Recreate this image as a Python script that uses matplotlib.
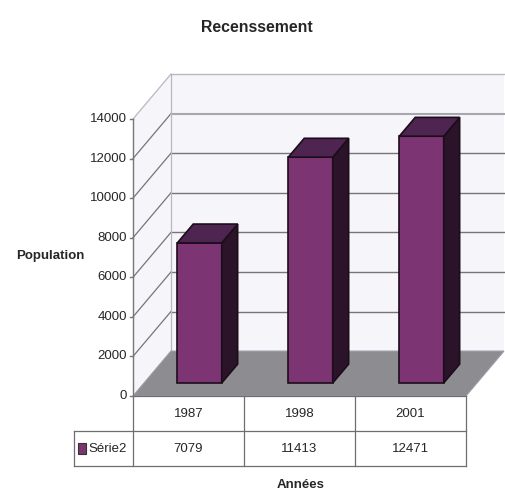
import matplotlib
matplotlib.use("Agg")
import matplotlib.pyplot as plt
from matplotlib.patches import Polygon, Rectangle

plt.rcParams["font.family"] = ["Liberation Sans", "DejaVu Sans"]

# data
years = ["1987", "1998", "2001"]
population = [7079, 11413, 12471]
series_name = "Série2"
y_ticks = [0, 2000, 4000, 6000, 8000, 10000, 12000, 14000]

# 3D look: how far the back wall is shifted from the front, in data units
DEPTH_X = 0.342
DEPTH_Y = 2270
Y_MAX = 14000
ROW_H = 1770   # table row height, in y units

FRONT = "#7c3572"
TOP = "#4e2450"
SIDE = "#2b1329"
WALL = "#f6f5fa"
FLOOR = "#8d8c91"
GRID = "#77757a"
LIGHT = "#b9b7bf"
TEXT = "#262626"


def shift(x, y, d):
    # project a point d (0..1) of the way towards the back wall
    return x + d * DEPTH_X, y + d * DEPTH_Y


fig = plt.figure(figsize=(5.06, 4.94), dpi=100)
ax = fig.add_axes([133 / 506, (494 - 396) / 494, 333 / 506, 277 / 494])
ax.set_xlim(0, 3)
ax.set_ylim(0, Y_MAX)
ax.axis("off")

# walls and floor
ax.add_patch(Polygon([shift(0, 0, 0), shift(0, 0, 1), shift(0, Y_MAX, 1), shift(0, Y_MAX, 0)],
                     fc=WALL, ec="none", clip_on=False, zorder=1))
ax.add_patch(Polygon([shift(0, 0, 1), shift(3, 0, 1), shift(3, Y_MAX, 1), shift(0, Y_MAX, 1)],
                     fc=WALL, ec="none", clip_on=False, zorder=1))
ax.add_patch(Polygon([shift(0, 0, 0), shift(3, 0, 0), shift(3, 0, 1), shift(0, 0, 1)],
                     fc=FLOOR, ec="#9a9aa8", lw=0.8, clip_on=False, zorder=2))

# gridlines on both walls
for v in y_ticks[1:]:
    x0, y0 = shift(0, v, 0)
    x1, y1 = shift(0, v, 1)
    x2, y2 = shift(3, v, 1)
    if v == 14000:
        c, lw = LIGHT, 1.0
    elif v == 12000:
        c, lw = "#a9a7ae", 1.5
    else:
        c, lw = GRID, 1.0
    ax.plot([x0, x1], [y0, y1], color=LIGHT if v == 14000 else GRID, lw=0.9, clip_on=False, zorder=1.5)
    ax.plot([x1, x2], [y1, y2], color=c, lw=lw, clip_on=False, zorder=1.5)
x1, y1 = shift(0, 0, 1)
x2, y2 = shift(0, Y_MAX, 1)
ax.plot([x1, x2], [y1, y2], color=LIGHT, lw=0.9, clip_on=False, zorder=1.5)

# bars
BAR_W = 0.40
D0, D1 = 0.29, 0.71
EDGE = "#1c0d1b"
for i, val in enumerate(population):
    left = i + 0.5 - BAR_W / 2
    right = left + BAR_W
    fl, fb = shift(left, 0, D0)
    fr, _ = shift(right, 0, D0)
    ft = fb + val
    bl, bb = shift(left, 0, D1)
    br, _ = shift(right, 0, D1)
    bt = bb + val
    ax.add_patch(Rectangle((fl, fb), fr - fl, val, fc=FRONT, ec=EDGE, lw=1.2, clip_on=False, zorder=3))
    ax.add_patch(Polygon([(fr, fb), (br, bb), (br, bt), (fr, ft)],
                         fc=SIDE, ec=EDGE, lw=1.2, clip_on=False, zorder=3))
    ax.add_patch(Polygon([(fl, ft), (fr, ft), (br, bt), (bl, bt)],
                         fc=TOP, ec=EDGE, lw=1.2, clip_on=False, zorder=3))

# value axis and ticks
ax.plot([0, 0], [0, Y_MAX], color=GRID, lw=1.0, clip_on=False, zorder=4)
for v in y_ticks:
    ax.plot([-0.027, 0], [v, v], color=GRID, lw=1.0, clip_on=False, zorder=4)
    ax.text(-0.054, v, str(v), ha="right", va="center", fontsize=9.5, color=TEXT, clip_on=False)

# data table under the plot
TBL_LEFT = -0.53
LINE = "#6f6d72"
ax.plot([0, 3], [0, 0], color=LINE, lw=0.9, clip_on=False, zorder=4)
for row in (1, 2):
    ax.plot([TBL_LEFT, 3], [-row * ROW_H] * 2, color=LINE, lw=0.9, clip_on=False, zorder=4)
ax.plot([TBL_LEFT, TBL_LEFT], [-ROW_H, -2 * ROW_H], color=LINE, lw=0.9, clip_on=False, zorder=4)
for c in (0, 1, 2, 3):
    ax.plot([c, c], [0, -2 * ROW_H], color=LINE, lw=0.9, clip_on=False, zorder=4)
for i in range(3):
    ax.text(i + 0.5, -0.5 * ROW_H, years[i], ha="center", va="center", fontsize=9.5, color=TEXT)
    ax.text(i + 0.5, -1.5 * ROW_H, str(population[i]), ha="center", va="center", fontsize=9.5, color=TEXT)
ax.add_patch(Rectangle((-0.495, -1.5 * ROW_H - 300), 0.072, 600, fc=FRONT, ec="#333333", lw=0.8, clip_on=False))
ax.text(-0.054, -1.5 * ROW_H, series_name, ha="right", va="center", fontsize=9.5, color=TEXT)

# titles
fig.text(257 / 506, 1 - 28 / 494, "Recenssement", ha="center", va="center", fontsize=11.4, fontweight="bold", color=TEXT)
fig.text(50 / 506, 1 - 256 / 494, "Population", ha="center", va="center", fontsize=9.5, fontweight="bold", color=TEXT)
fig.text(301 / 506, 1 - 485 / 494, "Années", ha="center", va="center", fontsize=9.5, fontweight="bold", color=TEXT)

plt.savefig("out.png", dpi=100)
plt.close()
